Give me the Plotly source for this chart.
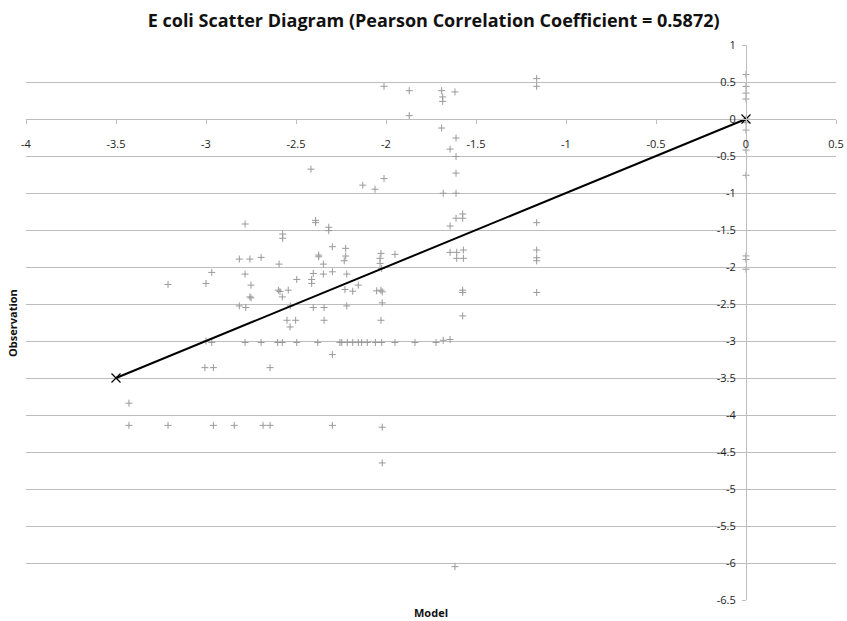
import plotly.graph_objects as go

model = [
    -1.163, -1.163, -2.011, -1.871, -1.691, -1.685, -1.685, -1.617, -1.871, -1.691,
    -1.611, -1.644, -1.611, -1.611, -2.417, -2.129, -2.061, -2.011, -1.682, -1.611,
    -1.611, -1.574, -1.574, -1.644, -1.163,
    -2.783, -2.574, -2.574, -2.391, -2.391, -2.318, -2.318, -2.298, -2.224, -2.374,
    -2.374, -2.224, -2.815, -2.756, -2.694, -2.594, -2.348, -2.232, -2.968, -2.783,
    -2.404, -2.348, -2.298, -2.218, -2.496, -2.413, -2.413, -3.211, -3.0, -2.75,
    -2.598, -2.589, -2.543, -2.228, -2.756, -2.75, -2.576, -2.815, -2.779, -2.532,
    -2.404, -2.344, -2.218, -2.55, -2.502, -2.533, -2.344, -3.0, -2.968,
    -2.783, -2.694, -2.602, -2.576, -2.496, -2.379, -2.256, -2.246, -2.215,
    -2.298, -3.006, -2.959, -2.644, -3.428,
    -3.428, -3.211, -2.959, -2.843, -2.683, -2.644, -2.298,
    -2.028, -2.033, -2.033, -2.024, -1.95, -1.644, -1.607, -1.57, -1.607, -1.57,
    -1.163, -1.163, -1.163, -2.185, -2.154, -2.052, -2.028, -2.021, -2.021, -2.028,
    -1.574, -1.574, -1.574, -1.163,
    -2.185, -2.154, -2.135, -2.104, -2.059, -2.024, -1.95, -1.839, -1.722, -1.682, -1.644,
    -2.021, -2.021, -1.617,
    0.0, 0.0, 0.0, 0.0, 0.0, 0.0, 0.0, 0.0, 0.0, 0.0, 0.0, 0.0,
]
observation = [
    0.546, 0.442, 0.442, 0.383, 0.383, 0.298, 0.238, 0.366, 0.045, -0.122,
    -0.257, -0.407, -0.507, -0.732, -0.678, -0.894, -0.949, -0.805, -1.003, -1.003,
    -1.341, -1.283, -1.341, -1.446, -1.401,
    -1.419, -1.554, -1.612, -1.37, -1.40, -1.463, -1.509, -1.726, -1.748, -1.839,
    -1.862, -1.852, -1.893, -1.893, -1.870, -1.961, -1.961, -1.916, -2.073, -2.096,
    -2.087, -2.096, -2.065, -2.096, -2.168, -2.168, -2.222, -2.236, -2.222, -2.245,
    -2.313, -2.331, -2.313, -2.304, -2.404, -2.417, -2.404, -2.526, -2.547, -2.526,
    -2.547, -2.547, -2.526, -2.72, -2.72, -2.81, -2.72, -3.0, -3.02,
    -3.02, -3.02, -3.02, -3.02, -3.02, -3.02, -3.02, -3.02, -3.02,
    -3.184, -3.36, -3.36, -3.36, -3.84,
    -4.14, -4.14, -4.14, -4.14, -4.14, -4.14, -4.14,
    -1.816, -1.883, -1.951, -2.019, -1.829, -1.802, -1.802, -1.771, -1.883, -1.883,
    -1.771, -1.875, -1.916, -2.327, -2.245, -2.322, -2.313, -2.336, -2.485, -2.72,
    -2.313, -2.344, -2.661, -2.344,
    -3.02, -3.02, -3.02, -3.02, -3.02, -3.02, -3.02, -3.02, -3.02, -2.99, -2.98,
    -4.165, -4.648, -6.049,
    0.6, 0.44, 0.35, 0.27, 0.0, -0.05, -0.15, -0.42, -0.76, -1.85, -1.9, -2.03,
]

# 1:1 reference line end points
line_x = [-3.5, 0.0]
line_y = [-3.5, 0.0]

x_ticks = [-4, -3.5, -3, -2.5, -2, -1.5, -1, -0.5, 0, 0.5]
x_labels = ["-4", "-3.5", "-3", "-2.5", "-2", "-1.5", "-1", "-0.5", "0", "0.5"]
y_ticks = [1, 0.5, 0, -0.5, -1, -1.5, -2, -2.5, -3, -3.5, -4, -4.5, -5, -5.5, -6, -6.5]
y_labels = ["1", "0.5", "0", "-0.5", "-1", "-1.5", "-2", "-2.5", "-3", "-3.5", "-4",
            "-4.5", "-5", "-5.5", "-6", "-6.5"]

x_range = [-4, 0.5]
y_range = [-6.5, 1]

FONT = "Open Sans"
GRID = "#bdbdbd"

fig = go.Figure()
fig.add_trace(go.Scatter(
    x=model, y=observation, mode="markers",
    marker=dict(symbol="cross-thin", size=5, color="#999999",
                line=dict(width=1, color="#999999")),
    showlegend=False, hoverinfo="x+y",
))
fig.add_trace(go.Scatter(
    x=line_x, y=line_y, mode="lines+markers",
    line=dict(color="black", width=2),
    marker=dict(symbol="x-thin", size=9, color="black",
                line=dict(width=1.2, color="black")),
    showlegend=False,
))

x_pos = (0 - y_range[0]) / (y_range[1] - y_range[0])
y_pos = (0 - x_range[0]) / (x_range[1] - x_range[0])

fig.update_layout(
    width=847, height=621,
    margin=dict(l=26, r=11, t=45, b=21),
    paper_bgcolor="white", plot_bgcolor="white",
    font=dict(family=FONT, size=11, color="#222222"),
    title=dict(text="<b>E coli Scatter Diagram (Pearson Correlation Coefficient = 0.5872)</b>",
               x=0.512, xanchor="center", y=0.967, yanchor="middle",
               font=dict(family=FONT, size=18, color="#111111")),
    xaxis=dict(range=x_range, tickvals=x_ticks, ticktext=x_labels,
               showgrid=False, zeroline=False, automargin=False,
               showline=True, linecolor=GRID, linewidth=1,
               ticks="outside", ticklen=4, tickcolor=GRID,
               ticklabelstandoff=11,
               anchor="free", position=x_pos,
               tickfont=dict(family=FONT, size=11, color="#222222")),
    yaxis=dict(range=y_range, tickvals=y_ticks, ticktext=y_labels,
               showgrid=True, gridcolor=GRID, gridwidth=1, zeroline=False,
               automargin=False,
               showline=True, linecolor=GRID, linewidth=1,
               ticks="outside", ticklen=4, tickcolor=GRID,
               ticklabelstandoff=4,
               anchor="free", position=y_pos,
               tickfont=dict(family=FONT, size=11, color="#222222")),
    annotations=[
        dict(text="<b>Model</b>", x=0.5, y=-0.005, xref="paper", yref="paper",
             xanchor="center", yanchor="top", showarrow=False,
             font=dict(family=FONT, size=11, color="#111111")),
        dict(text="<b>Observation</b>", x=-0.005, y=0.5, xref="paper", yref="paper",
             xanchor="right", yanchor="middle", textangle=-90, showarrow=False,
             font=dict(family=FONT, size=11, color="#111111")),
    ],
)

fig.write_html("out.html")
